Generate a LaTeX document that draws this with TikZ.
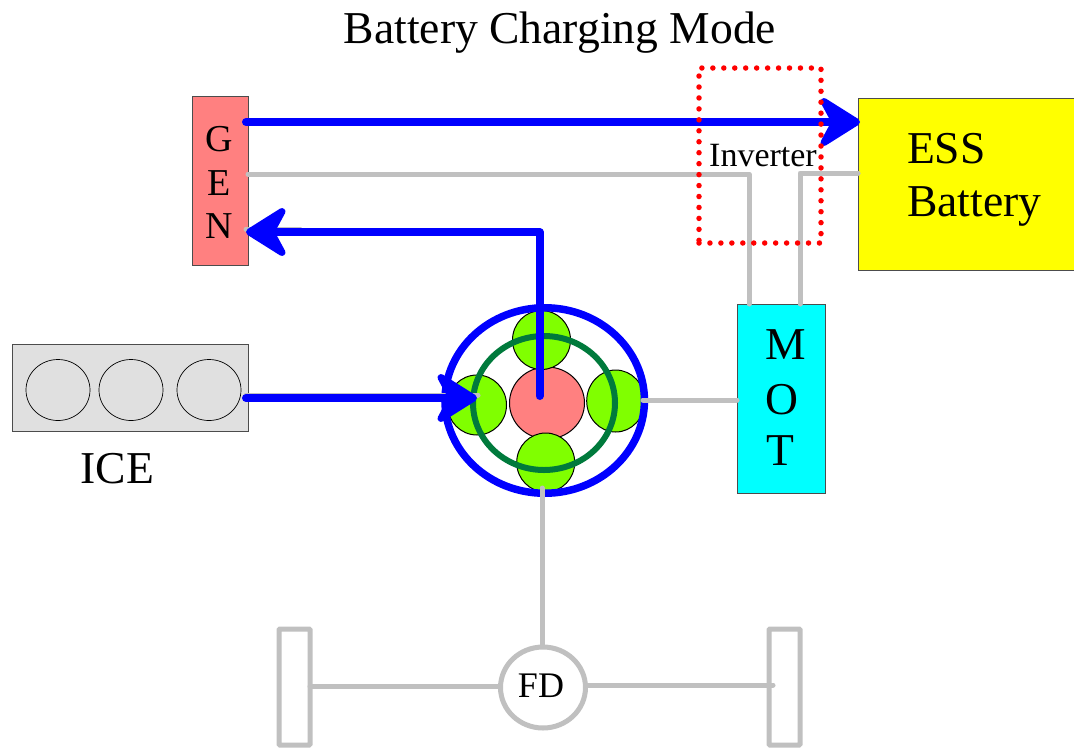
\documentclass[tikz,border=0pt]{standalone}
\usepackage{fontspec}
\setmainfont{Liberation Serif}
\usetikzlibrary{arrows.meta,shapes.geometric}
\definecolor{planetgreen}{HTML}{80FF00}
\definecolor{linegray}{HTML}{C0C0C0}
\definecolor{powerblue}{HTML}{0000FF}
\definecolor{ringgreen}{HTML}{007A3C}
\definecolor{genpink}{HTML}{FF8080}
\definecolor{icegray}{HTML}{E0E0E0}
\definecolor{essyellow}{RGB}{255,255,0}
\definecolor{motcyan}{RGB}{0,255,255}
\definecolor{dotred}{RGB}{255,0,0}
\tikzset{
  box/.style={draw=black!70,line width=1pt,inner sep=0,outer sep=0,anchor=north west},
  disc/.style={ellipse,draw=black,line width=1pt,inner sep=0,outer sep=0},
  planet/.style={disc,fill=planetgreen},
  cyl/.style={disc,fill=icegray,line width=0.7pt,minimum width=64pt,minimum height=61pt},
  lab/.style={inner sep=0,outer sep=0},
  big/.style={lab,font=\fontsize{45.6}{54}\selectfont},
  mid/.style={lab,font=\fontsize{38}{45}\selectfont},
  small/.style={lab,font=\fontsize{34}{40}\selectfont},
  fdtext/.style={lab,font=\fontsize{36}{43}\selectfont},
  grayline/.style={draw=linegray,line width=5pt,line join=round,line cap=round},
  power/.style={draw=powerblue,line width=8pt,line join=round,line cap=round,
    -{Stealth[length=48pt,width=60pt,inset=16pt,line width=7pt,round]}},
  wheel/.style={draw=linegray,line width=5pt,fill=white,inner sep=0,outer sep=0,anchor=north west,rounded corners=1pt},
}
\begin{document}
\begin{tikzpicture}[x=1pt,y=-1pt]
\useasboundingbox (0,0) rectangle (1074,748);
\node[big,anchor=base] (title) at (560,43) {Battery Charging Mode};
% boxes
\node[box,fill=genpink,minimum width=56pt,minimum height=169pt] (gen) at (192,96) {};
\node[box,fill=essyellow,minimum width=222pt,minimum height=172pt] (ess) at (858,98) {};
\node[box,fill=motcyan,minimum width=88pt,minimum height=189pt] (mot) at (737,304) {};
\node[box,fill=icegray,minimum width=236pt,minimum height=87pt] (ice) at (12,344) {};
\node[cyl] (c1) at (58,390) {};
\node[cyl] (c2) at (131,390) {};
\node[cyl] (c3) at (209,390) {};
\node[mid] (g1) at (219,139) {G};
\node[mid] (g2) at (219,183) {E};
\node[mid] (g3) at (219,226) {N};
\node[big] (m1) at (786,345) {M};
\node[big] (m2) at (782,400) {O};
\node[big] (m3) at (780,451) {T};
\node[big,anchor=base west] (ess1) at (907,163) {ESS};
\node[big,anchor=base west] (ess2) at (907,216) {Battery};
\node[big,anchor=base] (icel) at (117.5,483) {ICE};
% gear set
\node[disc,fill=genpink,minimum width=75pt,minimum height=72pt] (sun) at (547,403) {};
\node[planet,minimum width=58pt,minimum height=59pt] (pt) at (541.5,340) {};
\node[planet,minimum width=59pt,minimum height=60pt] (pl) at (477,405) {};
\node[planet,minimum width=58pt,minimum height=62pt] (pr) at (615.7,401) {};
\node[planet,minimum width=58pt,minimum height=59pt] (pb) at (545.7,462.5) {};
\node[ellipse,draw=powerblue,line width=7.5pt,minimum width=199.5pt,minimum height=185.5pt,inner sep=0,outer sep=0] (ringo) at (544.7,400.5) {};
\node[ellipse,draw=ringgreen,line width=6pt,minimum width=142pt,minimum height=134pt,inner sep=0,outer sep=0] (ringi) at (544,403) {};
% final drive and wheels
\node[wheel,minimum width=31pt,minimum height=116pt] (wl) at (279,629) {};
\node[wheel,minimum width=31pt,minimum height=116pt] (wr) at (769,629) {};
\node[ellipse,draw=linegray,line width=5pt,fill=white,minimum width=85pt,minimum height=81pt,inner sep=0,outer sep=0] (fd) at (543,687.5) {};
\node[fdtext] (fdl) at (541,686) {FD};
% anchor coordinates
\coordinate (genTop) at (246,122);
\coordinate (essIn) at (860,122);
\coordinate (genMid) at (248,174);
\coordinate (motA) at (749,304);
\coordinate (essMid) at (858,173);
\coordinate (motB) at (800,304);
\coordinate (motC) at (737,400);
\coordinate (prC) at (643,400);
\coordinate (pbC) at (542,488);
\coordinate (fdTop) at (542,645);
\coordinate (wlC) at (310,686.5);
\coordinate (fdL) at (500,686.5);
\coordinate (fdR) at (586,685);
\coordinate (wrC) at (773,685);
\coordinate (genLow) at (246,232);
\coordinate (sunHub) at (539.5,396);
\coordinate (iceOut) at (246,398);
\coordinate (plIn) at (477,398);
% gray connectors
\draw[grayline] (genMid) -| (motA);
\draw[grayline] (essMid) -| (motB);
\draw[grayline] (motC) -- (prC);
\draw[grayline] (pbC) -- (fdTop);
\draw[grayline] (wlC) -- (fdL);
\draw[grayline] (fdR) -- (wrC);
\draw[grayline] (iceOut) ++(0,-3) -- (478,395);
\draw[grayline] (genLow) ++(0,-3) -- (300,229);
% blue power flow
\draw[power] (genTop) -- (essIn);
\draw[power] (sunHub) |- (genLow);
\draw[power] (iceOut) -- (plIn);
% inverter
\node[draw=dotred,line width=5.5pt,dash pattern=on 0pt off 10.95pt,line cap=round,minimum width=122pt,minimum height=175pt,inner sep=0,outer sep=0,anchor=north west] (inv) at (699,68) {};
\node[small] (invl) at (763,156) {Inverter};
\end{tikzpicture}
\end{document}
